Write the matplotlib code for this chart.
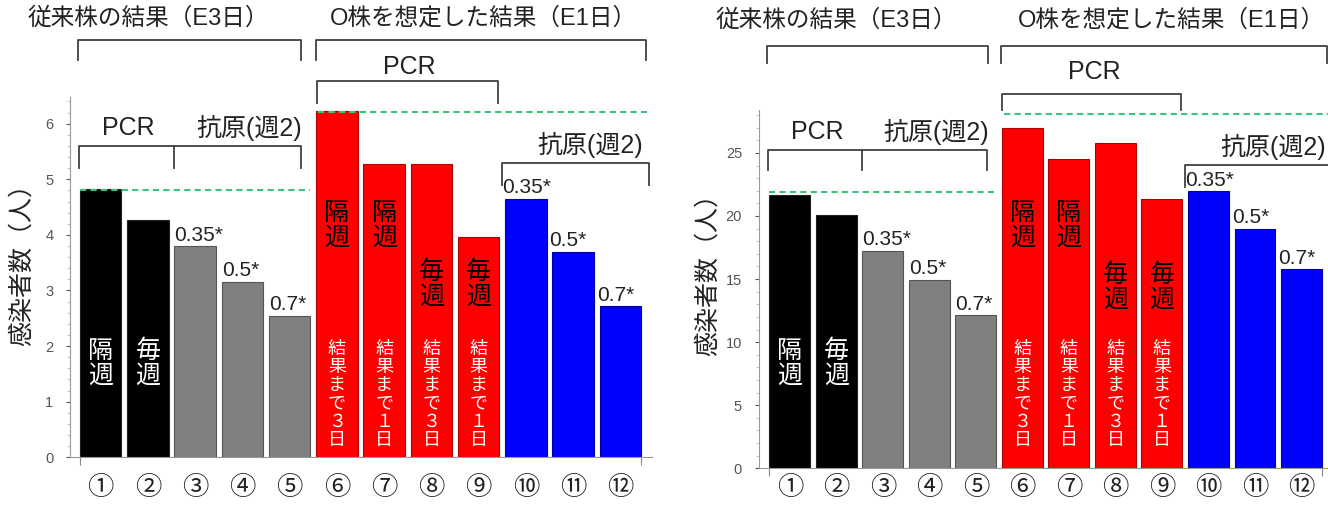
import numpy as np
import matplotlib
matplotlib.use('Agg')
import matplotlib.pyplot as plt
from matplotlib.transforms import blended_transform_factory
from matplotlib.ticker import MultipleLocator, AutoMinorLocator

plt.rcParams['font.family'] = ['Liberation Sans', 'Noto Sans CJK JP', 'DejaVu Sans']

FIG_W, FIG_H = 1328, 505

# data
bar_labels = ['①', '②', '③', '④', '⑤', '⑥', '⑦', '⑧', '⑨', '⑩', '⑪', '⑫']
left_counts = [4.82, 4.26, 3.80, 3.16, 2.55, 6.22, 5.28, 5.27, 3.96, 4.65, 3.70, 2.72]
right_counts = [21.7, 20.1, 17.25, 14.95, 12.15, 27.0, 24.5, 25.8, 21.35, 21.95, 19.0, 15.8]
left_refs = [4.81, 6.21]
right_refs = [21.9, 28.1]
group_titles = ['従来株の結果（E3日）', 'O株を想定した結果（E1日）']
test_names = ['PCR', '抗原(週2)']
rate_labels = ['0.35*', '0.5*', '0.7*']
freq_labels = ['隔週', '毎週', '隔週', '隔週', '毎週', '毎週']
delay_labels = ['結果まで３日', '結果まで１日', '結果まで３日', '結果まで１日']

bar_colors = ['#000000'] * 2 + ['#808080'] * 3 + ['#ff0000'] * 4 + ['#0000ff'] * 3
edge_colors = ['#222222'] * 2 + ['#555555'] * 3 + ['#b00000'] * 4 + ['#0000a0'] * 3
BR = '#404040'
GREEN = '#3cc47c'
TXT = '#222222'

fig = plt.figure(figsize=(FIG_W / 100, FIG_H / 100), dpi=100)


def ypx(p):
    return 1 - p / FIG_H


def bracket(ax, tr, x0, x1, yl, ye, mids=()):
    ax.plot([x0, x0, x1, x1], [ypx(ye), ypx(yl), ypx(yl), ypx(ye)], transform=tr,
            clip_on=False, color=BR, lw=1.3, solid_joinstyle='round')
    for m in mids:
        ax.plot([m, m], [ypx(yl), ypx(ye)], transform=tr, clip_on=False, color=BR, lw=1.3)


def draw_panel(rect, counts, refs, xlim, ytop, ystep, lay):
    ax = fig.add_axes(rect)
    x = np.arange(len(counts))
    ax.bar(x, counts, width=0.88, color=bar_colors, edgecolor=edge_colors, linewidth=0.8)
    ax.set_xlim(*xlim)
    ax.set_ylim(0, ytop)
    ax.yaxis.set_major_locator(MultipleLocator(ystep))
    ax.yaxis.set_minor_locator(AutoMinorLocator(5))
    ax.tick_params(axis='y', which='major', length=3, pad=9, labelsize=10.5,
                   colors='#555555')
    ax.tick_params(axis='y', which='minor', length=2, color='#bbbbbb')
    ax.set_xticks([-0.44, 11.44])
    ax.set_xticklabels([])
    ax.tick_params(axis='x', length=6, color='#888888')
    for s in ['top', 'right']:
        ax.spines[s].set_visible(False)
    for s in ['left', 'bottom']:
        ax.spines[s].set_color('#999999')

    tr = blended_transform_factory(ax.transData, fig.transFigure)

    # reference dashed lines
    ax.plot([-0.44, 4.42], [refs[0]] * 2, ls=(0, (3, 2)), color=GREEN, lw=1.5, clip_on=False)
    ax.plot([4.6, 11.65], [refs[1]] * 2, ls=(0, (3, 2)), color=GREEN, lw=1.5, clip_on=False)

    # circled numbers
    for i, lab in enumerate(bar_labels):
        ax.text(i, ypx(488), lab, transform=tr, ha='center', va='center', fontsize=19,
                color=TXT)

    # group titles & brackets
    ax.text(lay['t1_x'], ypx(lay['title']), group_titles[0], transform=tr, ha='left',
            va='center', fontsize=17, color=TXT)
    ax.text(lay['t2_x'], ypx(lay['title']), group_titles[1], transform=tr, ha='left',
            va='center', fontsize=17, color=TXT)
    bracket(ax, tr, -0.49, 4.25, *lay['top'])
    bracket(ax, tr, 4.55, 11.55, *lay['top'])
    bracket(ax, tr, 4.57, 8.42, *lay['opcr'])
    ax.text(6.54, ypx(lay['opcr_t']), test_names[0], transform=tr, ha='center',
            va='center', fontsize=18, color=TXT)
    bracket(ax, tr, -0.47, 4.23, *lay['pcr'], mids=[1.55])
    ax.text(0.58, ypx(lay['pcr_t']), test_names[0], transform=tr, ha='center',
            va='center', fontsize=18, color=TXT)
    ax.text(3.14, ypx(lay['pcr_t']), test_names[1], transform=tr, ha='center',
            va='center', fontsize=18, color=TXT)
    bracket(ax, tr, 8.5, 11.6, *lay['ag'])
    ax.text(lay['ag_x'], ypx(lay['ag_t']), test_names[1], transform=tr, ha='center',
            va='center', fontsize=18, color=TXT)

    # rate labels
    for j, i in enumerate([2, 3, 4]):
        ax.annotate(rate_labels[j], (i - 0.44, counts[i]), xytext=(0, 1),
                    textcoords='offset points', ha='left', va='bottom', fontsize=15,
                    color=TXT, annotation_clip=False)
    for j, i in enumerate([9, 10, 11]):
        ax.annotate(rate_labels[j], (i - 0.5, counts[i]), xytext=(0, 1),
                    textcoords='offset points', ha='left', va='bottom', fontsize=15,
                    color=TXT, annotation_clip=False)

    # inner labels
    freq_pos = [(0, 363, 'white'), (1, 363, 'white'), (5, 225, 'black'),
                (6, 225, 'black'), (7, lay['mai'], 'black'), (8, lay['mai'], 'black')]
    for lab, (i, yp, c) in zip(freq_labels, freq_pos):
        ax.text(i, ypx(yp), '\n'.join(lab), transform=tr, ha='center', va='center',
                fontsize=18, color=c, linespacing=1.05)
    for k, lab in enumerate(delay_labels):
        ax.text(5 + k, ypx(395), '\n'.join(lab), transform=tr, ha='center',
                va='center', fontsize=13, color='white', linespacing=1.08)

    fig.text(lay['yl'][0] / FIG_W, ypx(lay['yl'][1]), '感染者数（人）', rotation=90,
             ha='center', va='center', fontsize=18, color=TXT)
    return ax


left_lay = {'title': 18, 't1_x': -1.55, 't2_x': 4.85, 'top': (40, 60),
            'opcr': (81, 103), 'opcr_t': 67, 'pcr': (146, 168), 'pcr_t': 128,
            'ag': (163, 185), 'ag_t': 145, 'ag_x': 10.37, 'mai': 284, 'yl': (22, 258)}
right_lay = {'title': 20, 't1_x': -1.59, 't2_x': 4.9, 'top': (46, 63),
             'opcr': (94, 110), 'opcr_t': 72, 'pcr': (150, 170), 'pcr_t': 132,
             'ag': (165, 187), 'ag_t': 147, 'ag_x': 10.38, 'mai': 287, 'yl': (708, 268)}

draw_panel([70 / FIG_W, 47.7 / FIG_H, 582 / FIG_W, 360.3 / FIG_H], left_counts,
           left_refs, (-0.65, 11.67), 6.48, 1, left_lay)
draw_panel([758.7 / FIG_W, 36.7 / FIG_H, 569.3 / FIG_W, 358.3 / FIG_H], right_counts,
           right_refs, (-0.67, 11.57), 28.4, 5, right_lay)

fig.savefig('out.png', dpi=100)
